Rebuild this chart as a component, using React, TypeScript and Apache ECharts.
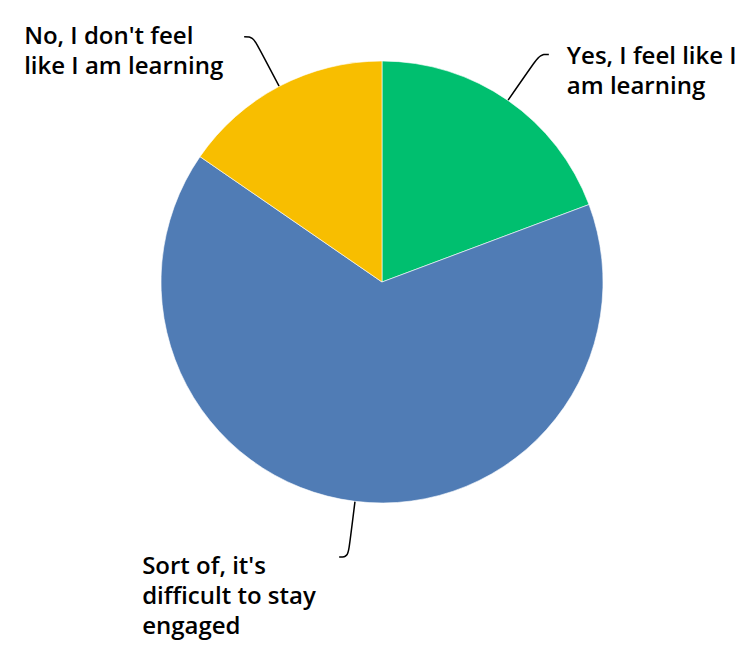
import React, { useEffect, useRef } from "react";
import * as echarts from "echarts";

const categories = [
  "Yes, I feel like I am learning",
  "Sort of, it's difficult to stay engaged",
  "No, I don't feel like I am learning",
];
const labelTexts = [
  "Yes, I feel like I\nam learning",
  "Sort of, it's\ndifficult to stay\nengaged",
  "No, I don't feel\nlike I am learning",
];
const values = [19.3, 65.3, 15.4];
const colors = ["#00BF6F", "#507CB5", "#F8BE00"];

export default function App() {
  const ref = useRef<HTMLDivElement>(null);
  useEffect(() => {
    if (!ref.current) return;
    const chart = echarts.init(ref.current, undefined, { renderer: "svg" });
    const offsets: Record<number, [number, number]> = {
      0: [18, -15],
      1: [-197, -7],
      2: [-220, -17],
    };
    chart.setOption({
      animation: false,
      backgroundColor: "#ffffff",
      series: [
        {
          type: "pie",
          center: [382, 282],
          radius: 221,
          startAngle: 90,
          clockwise: true,
          avoidLabelOverlap: false,
          itemStyle: { borderColor: "#ffffff", borderWidth: 0.6 },
          label: {
            show: true,
            position: "outside",
            color: "#000000",
            fontFamily: "Open Sans",
            fontWeight: 600,
            fontSize: 24,
            lineHeight: 30,
            formatter: (p: any) => labelTexts[p.dataIndex],
          },
          labelLine: {
            show: true,
            length: 56,
            length2: 9,
            smooth: 0.4,
            lineStyle: { color: "#000000", width: 1.5 },
          },
          labelLayout: (p: any) => {
            const pts = p.labelLinePoints;
            if (!pts) return {};
            const end = pts[pts.length - 1];
            const off = offsets[p.dataIndex];
            return {
              x: end[0] + off[0],
              y: end[1] + off[1],
              align: "left",
              verticalAlign: "top",
              labelLinePoints: pts.map((q: number[]) => [q[0], q[1]]),
            };
          },
          data: categories.map((name, i) => ({
            name,
            value: values[i],
            itemStyle: { color: colors[i] },
          })),
        },
      ],
    });
    return () => chart.dispose();
  }, []);
  return (
    <div
      ref={ref}
      style={{ position: "fixed", left: 0, top: 0, width: 756, height: 654 }}
    />
  );
}
